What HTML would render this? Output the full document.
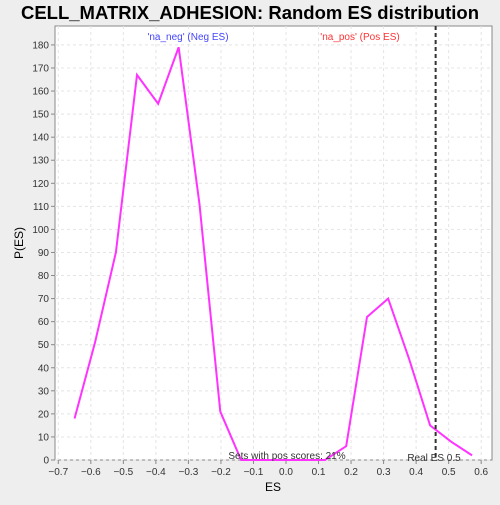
<!DOCTYPE html>
<html><head><meta charset="utf-8"><style>
body{margin:0;background:#eeeeee;font-family:"Liberation Sans","DejaVu Sans",sans-serif}
</style></head><body>
<svg width="500" height="500" xmlns="http://www.w3.org/2000/svg">
<text x="250" y="19" text-anchor="middle" font-size="18.5" font-weight="bold" fill="#000">CELL_MATRIX_ADHESION: Random ES distribution</text>
<rect x="55" y="26" width="437" height="434" fill="#fff" stroke="#888"/>
<g id="grid"></g><g id="axes"></g><g id="series"></g>
<text x="188" y="40" text-anchor="middle" font-size="10" fill="#4444ff">'na_neg' (Neg ES)</text>
<text x="360" y="40" text-anchor="middle" font-size="10" fill="#ff3333">'na_pos' (Pos ES)</text>
<text x="287" y="459" text-anchor="middle" font-size="10" fill="#333">Sets with pos scores: 21%</text>
<text x="434" y="461" text-anchor="middle" font-size="10" fill="#333">Real ES 0.5</text>
<text x="273" y="491" text-anchor="middle" font-size="12" fill="#000">ES</text>
<text x="23" y="243" text-anchor="middle" font-size="12" fill="#000" transform="rotate(-90 23 243)">P(ES)</text>
</svg>
<script>
const esValues=[-0.65,-0.587,-0.523,-0.458,-0.393,-0.33,-0.266,-0.202,-0.138,-0.073,-0.009,0.056,0.12,0.185,0.249,0.314,0.378,0.443,0.507,0.572];
const probValues=[18,51,90,167,154.5,179,111,21,0,0,0,0,0,6,62,70,44,15,8,2];
const xTicks=[-0.7,-0.6,-0.5,-0.4,-0.3,-0.2,-0.1,0,0.1,0.2,0.3,0.4,0.5,0.6];
const yTicks=[0,10,20,30,40,50,60,70,80,90,100,110,120,130,140,150,160,170,180];
const realES=[0.46];
const NS='http://www.w3.org/2000/svg';
const X=v=>286+v*325.3, Y=v=>460-v*2.306;
function mk(t,a,p){const e=document.createElementNS(NS,t);for(const k in a)e.setAttribute(k,a[k]);document.getElementById(p).appendChild(e);return e;}
xTicks.forEach(t=>{
 const g=mk('line',{x1:X(t),x2:X(t),y1:26,y2:460,stroke:'#e4e4e4','stroke-dasharray':'3,3'},'grid');
 
 
 const tk=mk('line',{x1:X(t),x2:X(t),y1:460,y2:464,stroke:'#888'},'axes');
 
 
 const l=mk('text',{x:X(t),y:475,'text-anchor':'middle','font-size':'10',fill:'#333'},'axes');
 l.textContent=(Math.abs(t)<1e-9?'0.0':t.toFixed(1)).replace('-','\u2212');
 
 
});
yTicks.forEach(t=>{
 const g=mk('line',{x1:55,x2:492,y1:Y(t),y2:Y(t),stroke:'#e4e4e4','stroke-dasharray':'3,3'},'grid');
 
 
 const tk=mk('line',{x1:51,x2:55,y1:Y(t),y2:Y(t),stroke:'#888'},'axes');
 
 
 const l=mk('text',{x:49,y:Y(t)+3.5,'text-anchor':'end','font-size':'10',fill:'#333'},'axes');
 l.textContent=t;
 
 
});
const pl=mk('polyline',{points:esValues.map((v,i)=>X(v)+','+Y(probValues[i])).join(' '),fill:'none',stroke:'#ff33ff','stroke-width':2},'series');


realES.forEach(r=>{
 const d=mk('line',{x1:X(r),x2:X(r),y1:26,y2:460,stroke:'#333','stroke-width':2,'stroke-dasharray':'4,3'},'series');
 
 
});
</script>
</body></html>
